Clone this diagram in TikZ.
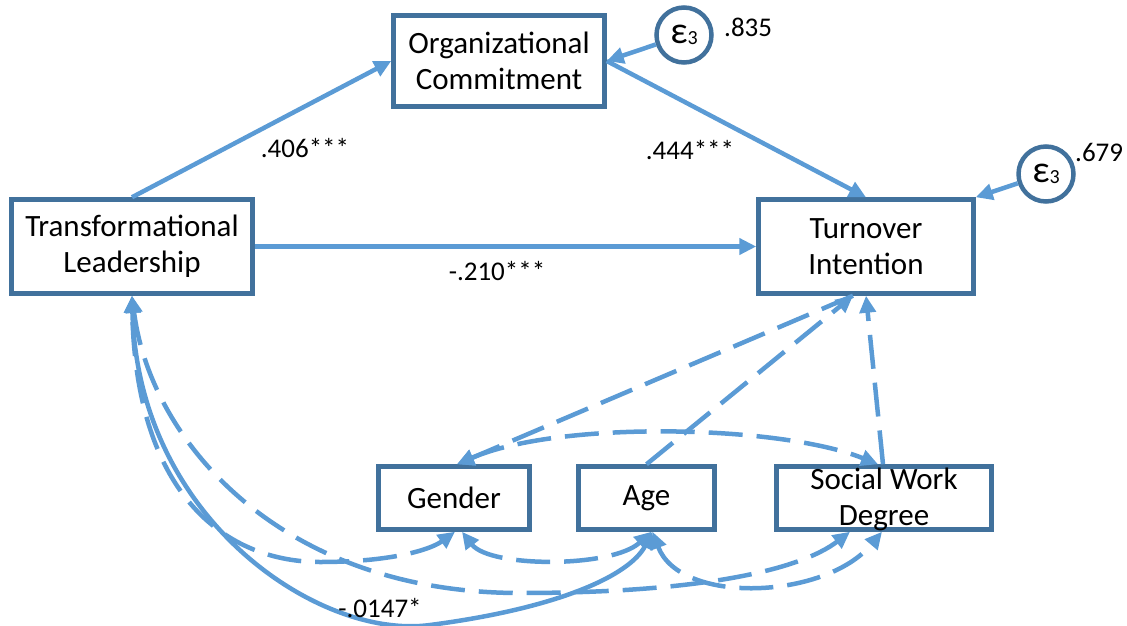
\documentclass[tikz,border=0pt]{standalone}
\usepackage{fontspec}
\setmainfont{Carlito}
\usetikzlibrary{arrows.meta}
\definecolor{boxline}{HTML}{41719C}
\definecolor{pathblue}{HTML}{5B9BD5}
\begin{document}
\begin{tikzpicture}[x=1pt,y=-1pt,
  varbox/.style={draw=boxline,line width=4.5pt,fill=white,inner sep=0pt,align=center,
    font=\fontsize{31}{36}\selectfont},
  boxtext/.style={inner sep=0pt,align=center,font=\fontsize{31}{36}\selectfont},
  errnode/.style={circle,draw=boxline,line width=4.5pt,fill=white,minimum size=55pt,inner sep=0pt},
  tip/.tip={Triangle[length=17pt,width=16pt]},
  link/.style={draw=pathblue,line width=4.5pt,-tip},
  both/.style={tip-tip},
  dlink/.style={link,dash pattern=on 34pt off 14pt},
  coef/.style={font=\fontsize{27}{30}\selectfont,inner sep=0pt}]
\useasboundingbox (0,0) rectangle (1127,626);

% observed variables
\node[varbox,minimum width=211pt,minimum height=91pt] (oc) at (499,61) {Organizational\\Commitment};
\node[varbox,minimum width=241pt,minimum height=94pt] (tl) at (132,246.5) {Transformational\\Leadership};
\node[varbox,minimum width=215pt,minimum height=94pt] (ti) at (866,246.5) {Turnover\\Intention};
\node[varbox,minimum width=151pt,minimum height=63pt] (gen) at (454,498) {Gender};
\node[varbox,minimum width=136pt,minimum height=63pt] (age) at (646.5,498) {Age};
\node[varbox,minimum width=215pt,minimum height=63pt] (swd) at (884,498) {};
\node[boxtext] (swdtext) at (884,499) {Social Work\\Degree};

% error terms
\newcommand{\errlabel}{{\fontsize{38}{38}\selectfont ε}\raisebox{-1pt}{\fontsize{20}{20}\selectfont 3}}
\node[errnode] (e1) at (684,35) {\errlabel};
\node[errnode] (e2) at (1046,174) {\errlabel};
\node[coef,anchor=west] (v1) at (724,27) {.835};
\node[coef,anchor=west] (v2) at (1075,152) {.679};

% structural paths
\draw[link] (tl.north) -- (oc.west);
\draw[link] (oc.east) -- (ti.north);
\draw[link] (tl.east) -- (ti.west);
\draw[link] (e1) -- (oc.east);
\draw[link] (e2) -- (ti.north east);
\node[coef] (c1) at (305,148) {.406***};
\node[coef] (c2) at (690,150) {.444***};
\node[coef] (c3) at (497,271) {-.210***};

% control variables and covariances
\draw[dlink] ([xshift=-13pt]ti.south) -- ([xshift=3pt]gen.north);
\draw[dlink] (age.north) -- ([xshift=-13pt]ti.south);
\draw[dlink] ([xshift=-1pt]swd.north) -- (ti.south);
\draw[dlink,both]
  ([xshift=3pt]gen.north) .. controls (560,420) and (780,425) .. ([xshift=-6pt]swd.north);

\draw[dlink,both]
  ([xshift=1pt]gen.south) .. controls (430,550) and (390,562) .. (320,562)
  .. controls (230,562) and (136,500) .. (tl.south);
\draw[dlink,both]
  (tl.south) .. controls (150,440) and (280,593) .. (520,593)
  .. controls (700,593) and (800,570) .. ([xshift=-34pt]swd.south);
\draw[dlink,both]
  ([xshift=8pt]gen.south) .. controls (490,568) and (612,568) .. ([xshift=5pt]age.south);
\draw[dlink,both]
  ([xshift=6pt]age.south) .. controls (680,605) and (825,600) .. ([xshift=-2pt]swd.south);

\draw[link,both]
  (tl.south) .. controls (138,520) and (320,640) .. (430,625)
  .. controls (560,608) and (630,575) .. ([xshift=6pt]age.south);
\node[coef] (c4) at (380,608) {-.0147*};
\end{tikzpicture}
\end{document}
